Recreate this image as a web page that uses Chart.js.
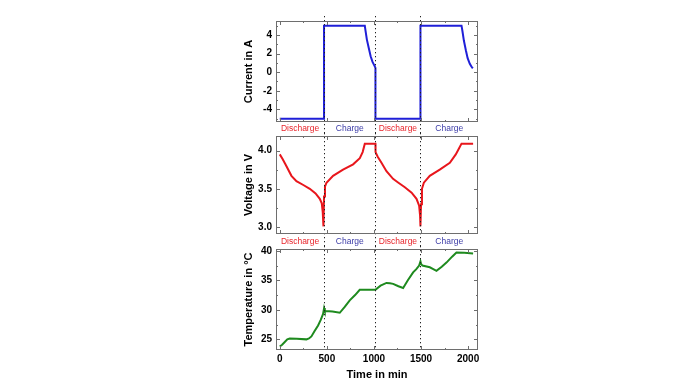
<!DOCTYPE html>
<html>
<head>
<meta charset="utf-8">
<script src="https://cdn.jsdelivr.net/npm/chart.js@4.4.1/dist/chart.umd.min.js"></script>
<style>
  body { margin: 0; background: #fff; width: 696px; height: 385px; position: relative; overflow: hidden; }
  canvas { position: absolute; left: 240px; }
  #currentChart { top: 0px; }
  #voltageChart { top: 133px; }
  #tempChart { top: 246px; }
</style>
</head>
<body>
<canvas id="currentChart" width="250" height="133"></canvas>
<canvas id="voltageChart" width="250" height="113"></canvas>
<canvas id="tempChart" width="250" height="139"></canvas>
<script>
/* 시간축 */
const timeMin = -40;
const timeMax = 2105;
const timeTicks = [0, 500, 1000, 1500, 2000];
const timeMinorTicks = [250, 750, 1250, 1750];

/* 방전/충전 구간 경계 (min) */
const phaseBounds = [470, 1016, 1494];
const phaseNames = ['Discharge', 'Charge', 'Discharge', 'Charge'];

/* Current in A */
const currentTime = [0, 470, 470, 903, 910, 925, 945, 965, 985, 1005, 1016, 1016, 1494, 1494, 1930, 1940, 1955, 1976, 1995, 2018, 2035, 2050];
const currentValues = [-5, -5, 5, 5, 4.5, 3.5, 2.6, 1.7, 1.1, 0.7, 0.45, -5, -5, 5, 5, 4.4, 3.4, 2.35, 1.5, 0.9, 0.6, 0.4];
const currentTicks = [-4, -2, 0, 2, 4];
const currentMinorTicks = [-5, -3, -1, 1, 3, 5];

/* Voltage in V */
const voltageTime = [0, 30, 60, 124, 177, 250, 319, 380, 425, 446, 456, 464, 470, 480, 496, 566, 672, 779, 850, 880, 903, 1016, 1017, 1040, 1080, 1133, 1203, 1260, 1328, 1400, 1452, 1480, 1490, 1494, 1500, 1510, 1530, 1593, 1699, 1806, 1869, 1900, 1930, 2053];
const voltageValues = [3.95, 3.89, 3.82, 3.67, 3.60, 3.55, 3.50, 3.44, 3.37, 3.31, 3.2, 3.01, 3.4, 3.53, 3.58, 3.67, 3.75, 3.82, 3.90, 3.98, 4.09, 4.09, 3.98, 3.92, 3.84, 3.73, 3.63, 3.58, 3.52, 3.45, 3.37, 3.28, 3.15, 3.01, 3.3, 3.5, 3.58, 3.67, 3.75, 3.84, 3.95, 4.02, 4.09, 4.09];
const voltageTicks = [3.0, 3.5, 4.0];
const voltageMinorTicks = [3.25, 3.75];

/* Temperature in °C */
const tempTime = [0, 25, 53, 80, 106, 180, 283, 310, 336, 370, 407, 435, 460, 471, 478, 489, 560, 637, 690, 743, 800, 849, 1016, 1070, 1133, 1170, 1204, 1260, 1310, 1360, 1416, 1450, 1480, 1494, 1500, 1515, 1593, 1630, 1664, 1720, 1770, 1830, 1876, 1960, 2053];
const tempValues = [23.8, 24.1, 24.55, 25.0, 25.15, 25.1, 25.0, 25.15, 25.5, 26.4, 27.35, 28.3, 29.3, 30.3, 29.9, 29.8, 29.7, 29.5, 30.5, 31.6, 32.5, 33.4, 33.4, 34.1, 34.55, 34.5, 34.4, 34.0, 33.7, 35.0, 36.35, 36.9, 37.5, 38.2, 37.8, 37.5, 37.2, 36.9, 36.6, 37.3, 38.0, 39.0, 39.7, 39.65, 39.55];
const tempTicks = [25, 30, 35, 40];
const tempMinorTicks = [27.5, 32.5, 37.5];

const FONT = 'Liberation Sans, Arial, sans-serif';

/* 프레임, 안쪽 눈금, 점선, 구간 라벨 그리는 플러그인 */
const framePlugin = {
  id: 'frame',
  afterDatasetsDraw(chart, args, opts) {
    const { ctx, chartArea: a } = chart;
    const x = chart.scales.x;
    const y = chart.scales.y;
    ctx.save();

    // 점선
    ctx.strokeStyle = '#222';
    ctx.lineWidth = 1;
    ctx.setLineDash([1.3, 2.7]);
    phaseBounds.forEach((t) => {
      const px = Math.round(x.getPixelForValue(t)) + 0.5;
      ctx.beginPath();
      ctx.moveTo(px, opts.lineTop);
      ctx.lineTo(px, opts.lineBottom === 'area' ? a.bottom : chart.height);
      ctx.stroke();
    });
    ctx.setLineDash([]);

    // 프레임
    ctx.strokeStyle = '#6e6e6e';
    ctx.lineWidth = 1;
    ctx.strokeRect(a.left + 0.5, a.top + 0.5, a.right - a.left - 1, a.bottom - a.top - 1);

    // 눈금
    ctx.beginPath();
    const yTick = (v, len) => {
      const py = Math.round(y.getPixelForValue(v)) + 0.5;
      ctx.moveTo(a.left, py); ctx.lineTo(a.left + len, py);
      ctx.moveTo(a.right, py); ctx.lineTo(a.right - len, py);
    };
    const xTick = (v, len) => {
      const px = Math.round(x.getPixelForValue(v)) + 0.5;
      ctx.moveTo(px, a.bottom); ctx.lineTo(px, a.bottom - len);
      ctx.moveTo(px, a.top); ctx.lineTo(px, a.top + len);
    };
    opts.yMajor.forEach((v) => yTick(v, 4));
    opts.yMinor.forEach((v) => yTick(v, 2));
    timeTicks.forEach((v) => xTick(v, 4));
    timeMinorTicks.forEach((v) => xTick(v, 2));
    ctx.stroke();

    // Discharge / Charge 라벨
    if (opts.labelY) {
      const edges = [timeMin, ...phaseBounds, timeMax];
      ctx.font = '8.5px ' + FONT;
      ctx.textAlign = 'center';
      ctx.textBaseline = 'middle';
      phaseNames.forEach((name, i) => {
        const mid = (x.getPixelForValue(edges[i]) + x.getPixelForValue(edges[i + 1])) / 2;
        ctx.fillStyle = name === 'Discharge' ? '#e8262c' : '#3b3ba6';
        ctx.fillText(name, mid, opts.labelY);
      });
    }
    ctx.restore();
  }
};

function noPadding(s) {
  s.paddingTop = 0;
  s.paddingBottom = 0;
  s.paddingLeft = 0;
  s.paddingRight = 0;
}

function makePanel(id, times, values, color, yMin, yMax, yTicks, yMinor, yTitle, yFmt, padding, showX, frameOpts) {
  const el = document.getElementById(id);
  return new Chart(el, {
    type: 'line',
    data: {
      datasets: [{
        data: times.map((t, i) => ({ x: t, y: values[i] })),
        borderColor: color,
        borderWidth: 2,
        pointRadius: 0,
        tension: 0,
        fill: false
      }]
    },
    options: {
      responsive: false,
      animation: false,
      devicePixelRatio: 1,
      layout: { padding: padding },
      plugins: {
        legend: { display: false },
        tooltip: { enabled: false },
        frame: frameOpts
      },
      scales: {
        x: {
          type: 'linear',
          min: timeMin,
          max: timeMax,
          display: showX,
          afterBuildTicks: (s) => { s.ticks = timeTicks.map((v) => ({ value: v })); },
          afterFit: (s) => {
            noPadding(s);
            s.height = showX ? 35 : 0;
          },
          grid: { display: false, drawTicks: false },
          border: { display: false },
          ticks: {
            color: '#000',
            maxRotation: 0,
            padding: 3,
            font: { family: FONT, weight: 'bold', size: 10 },
            callback: (v) => String(v)
          },
          title: {
            display: true,
            text: 'Time in min',
            color: '#000',
            font: { family: FONT, weight: 'bold', size: 11 },
            padding: { top: 0, bottom: 3 }
          }
        },
        y: {
          min: yMin,
          max: yMax,
          afterBuildTicks: (s) => { s.ticks = yTicks.map((v) => ({ value: v })); },
          afterFit: (s) => {
            noPadding(s);
            s.width = 36;
          },
          grid: { display: false, drawTicks: false },
          border: { display: false },
          ticks: {
            color: '#000',
            padding: 4,
            font: { family: FONT, weight: 'bold', size: 10 },
            callback: yFmt
          },
          title: {
            display: true,
            text: yTitle,
            color: '#000',
            font: { family: FONT, weight: 'bold', size: 11 },
            padding: { top: 2, bottom: 0 }
          }
        }
      }
    },
    plugins: [framePlugin]
  });
}

makePanel('currentChart', currentTime, currentValues, '#1f1fd8', -5.36, 5.5,
  currentTicks, currentMinorTicks, 'Current in A', (v) => String(v),
  { left: 0, right: 12, top: 21, bottom: 11 }, false,
  { yMajor: currentTicks, yMinor: currentMinorTicks, lineTop: 16, labelY: 129 });

makePanel('voltageChart', voltageTime, voltageValues, '#e8161c', 2.91, 4.19,
  voltageTicks, voltageMinorTicks, 'Voltage in V', (v) => v.toFixed(1),
  { left: 0, right: 12, top: 3, bottom: 12 }, false,
  { yMajor: voltageTicks, yMinor: voltageMinorTicks, lineTop: 0, labelY: 109 });

makePanel('tempChart', tempTime, tempValues, '#1e8a1e', 23.2, 40.3,
  tempTicks, tempMinorTicks, 'Temperature in °C', (v) => String(v),
  { left: 0, right: 12, top: 3, bottom: 0 }, true,
  { yMajor: tempTicks, yMinor: tempMinorTicks, lineTop: 0, lineBottom: 'area' });
</script>
</body>
</html>
